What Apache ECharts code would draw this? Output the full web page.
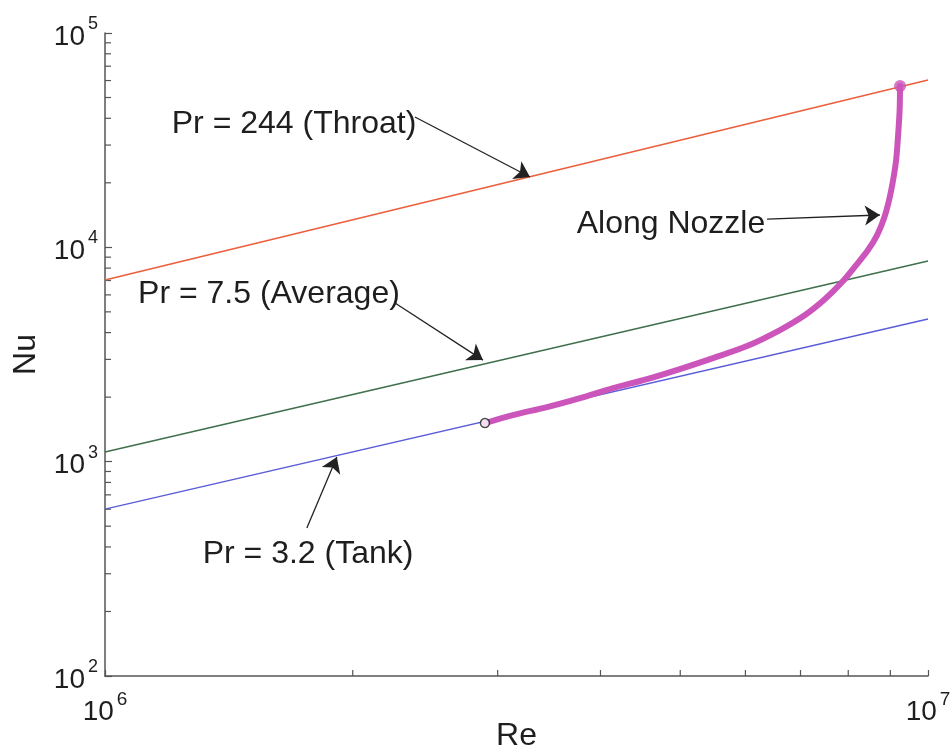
<!DOCTYPE html>
<html>
<head>
<meta charset="utf-8">
<script src="https://cdn.jsdelivr.net/npm/echarts@6/dist/echarts.min.js"></script>
<style>
  html, body { margin: 0; padding: 0; background: #ffffff; }
  #chart { width: 952px; height: 755px; }
</style>
</head>
<body>
<div id="chart"></div>
<script>
// Nusselt correlations at three Prandtl numbers, end points over the Re range
const reEnds = [1e6, 1e7];
const nuThroat = [7040, 60300];   // Pr = 244
const nuAverage = [1109, 8630];   // Pr = 7.5
const nuTank = [601, 4630];       // Pr = 3.2

// Local Reynolds / Nusselt numbers along the nozzle
const nozzleRe = [2.895e6, 3.131e6, 3.444e6, 3.778e6, 4.143e6, 4.557e6, 4.995e6, 5.480e6,
                  6.027e6, 6.610e6, 7.089e6, 7.497e6, 7.884e6, 8.199e6, 8.455e6, 8.673e6,
                  8.845e6, 8.969e6, 9.070e6, 9.147e6, 9.198e6, 9.237e6, 9.248e6];
const nozzleNu = [1514, 1650, 1798, 1981, 2205, 2429, 2705, 3044,
                  3463, 4113, 4832, 5738, 6961, 8359, 9714, 11413,
                  13700, 16620, 20610, 25550, 33420, 43720, 56570];

// Minor tick positions on the log axes
const reMinor = [2e6, 3e6, 4e6, 5e6, 6e6, 7e6, 8e6, 9e6];
const nuMinor = [200, 300, 400, 500, 600, 700, 800, 900,
                 2000, 3000, 4000, 5000, 6000, 7000, 8000, 9000,
                 20000, 30000, 40000, 50000, 60000, 70000, 80000, 90000];

// Annotations: text anchors and arrows
const noteText = ['Pr = 244 (Throat)', 'Pr = 7.5 (Average)', 'Pr = 3.2 (Tank)', 'Along Nozzle'];
const noteRe = [1.697e6, 1.582e6, 1.765e6, 4.872e6];
const noteNu = [37620, 6055, 372, 12850];
const arrowFromRe = [2.38e6, 2.251e6, 1.759e6, 6.375e6];
const arrowFromNu = [40560, 5495, 490, 13550];
const arrowToRe = [3.284e6, 2.879e6, 1.913e6, 8.74e6];
const arrowToNu = [21280, 2977, 1051, 14150];

const FONT = '"Liberation Sans", Arial, Helvetica, sans-serif';
const INK = '#1e1e1e';

const pairs = (xs, ys) => xs.map((x, i) => [x, ys[i]]);

const powerLabel = v => '{b|10}{s|' + Math.round(Math.log10(v)) + '}';
const richFor = (big, small) => ({
  b: { fontSize: big, fontFamily: FONT, color: INK, lineHeight: 36, verticalAlign: 'bottom' },
  s: { fontSize: small, fontFamily: FONT, color: INK, lineHeight: 36, verticalAlign: 'top', padding: [0, 0, 0, 3] }
});

const chart = echarts.init(document.getElementById('chart'), null, { renderer: 'canvas' });

function tickItem(horizontal) {
  return function (params, api) {
    const p = api.coord([api.value(0), api.value(1)]);
    const len = 6;
    return {
      type: 'line',
      shape: horizontal
        ? { x1: p[0], y1: p[1], x2: p[0] + len, y2: p[1] }
        : { x1: p[0], y1: p[1], x2: p[0], y2: p[1] - len },
      style: { stroke: '#555', lineWidth: 1.2 }
    };
  };
}

const option = {
  backgroundColor: '#ffffff',
  animation: false,
  grid: { left: 105, right: 24, top: 33, bottom: 79, containLabel: false, outerBoundsMode: 'none' },
  xAxis: {
    type: 'log', logBase: 10, min: 1e6, max: 1e7,
    name: 'Re', nameLocation: 'middle', nameGap: 44, nameMoveOverlap: false,
    nameTextStyle: { fontSize: 32, fontFamily: FONT, color: INK },
    axisLine: { show: true, lineStyle: { color: '#555', width: 1.5 } },
    axisTick: { show: true, inside: true, length: 6, lineStyle: { color: '#555', width: 1.2 } },
    axisLabel: { formatter: powerLabel, rich: richFor(28, 19), margin: 14 },
    splitLine: { show: false }
  },
  yAxis: {
    type: 'log', logBase: 10, min: 100, max: 100000,
    name: 'Nu', nameLocation: 'middle', nameGap: 63, nameMoveOverlap: false,
    nameTextStyle: { fontSize: 32, fontFamily: FONT, color: INK },
    axisLine: { show: true, lineStyle: { color: '#555', width: 1.5 } },
    axisTick: { show: true, inside: true, length: 7, lineStyle: { color: '#555', width: 1.2 } },
    axisLabel: { formatter: powerLabel, rich: richFor(28, 18), margin: 7 },
    splitLine: { show: false }
  },
  series: [
    {
      type: 'custom', name: 'reMinor', renderItem: tickItem(false), clip: false, silent: true,
      data: reMinor.map(v => [v, 100])
    },
    {
      type: 'custom', name: 'nuMinor', renderItem: tickItem(true), clip: false, silent: true,
      data: nuMinor.map(v => [1e6, v])
    },
    {
      type: 'line', name: 'Pr = 244', data: pairs(reEnds, nuThroat), showSymbol: false,
      lineStyle: { color: '#ec5f3c', width: 1.6 }, z: 2
    },
    {
      type: 'line', name: 'Pr = 7.5', data: pairs(reEnds, nuAverage), showSymbol: false,
      lineStyle: { color: '#3f6f4c', width: 1.4 }, z: 2
    },
    {
      type: 'line', name: 'Pr = 3.2', data: pairs(reEnds, nuTank), showSymbol: false,
      lineStyle: { color: '#5a5cd8', width: 1.4 }, z: 2
    },
    {
      type: 'line', name: 'Along Nozzle', data: pairs(nozzleRe, nozzleNu), showSymbol: false,
      smooth: 0.3, lineStyle: { color: '#cc55bb', width: 6, cap: 'round', join: 'round' }, z: 3
    },
    {
      type: 'scatter', name: 'nozzle end', z: 4, symbol: 'circle', symbolSize: 12,
      itemStyle: { color: '#cc55bb' },
      data: [[nozzleRe[nozzleRe.length - 1], nozzleNu[nozzleNu.length - 1]]]
    },
    {
      type: 'scatter', name: 'nozzle start', z: 5, symbol: 'circle', symbolSize: 9,
      itemStyle: { color: '#ffffff', borderColor: '#222', borderWidth: 1.5 },
      data: [[nozzleRe[0], nozzleNu[0]]]
    },
    {
      type: 'lines', coordinateSystem: 'cartesian2d', name: 'arrows', z: 6,
      symbol: ['none', 'arrow'], symbolSize: [1, 15],
      lineStyle: { color: '#222', width: 1.3, opacity: 1 },
      data: arrowFromRe.map((r, i) => ({
        coords: [[r, arrowFromNu[i]], [arrowToRe[i], arrowToNu[i]]]
      }))
    },
    {
      type: 'scatter', name: 'notes', z: 7, symbolSize: 0, silent: true,
      data: noteText.map((t, i) => ({ name: t, value: [noteRe[i], noteNu[i]] })),
      label: {
        show: true, position: 'inside', formatter: '{b}',
        fontSize: 32, fontFamily: FONT, color: INK, opacity: 1,
        textBorderWidth: 0, textShadowBlur: 0
      }
    }
  ]
};

chart.setOption(option);
</script>
</body>
</html>
